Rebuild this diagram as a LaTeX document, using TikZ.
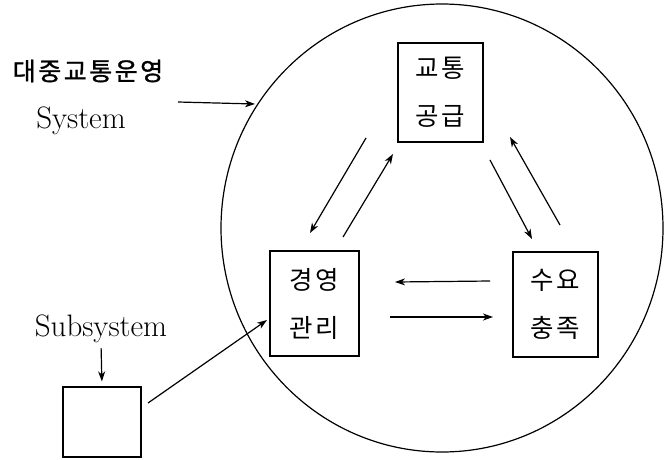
\documentclass[tikz,border=0pt]{standalone}
\usepackage{fontspec}
\newfontfamily\krfont[LetterSpace=10]{Noto Sans CJK KR}
\newfontfamily\krheavy[LetterSpace=10,FakeBold=1.2]{Noto Sans CJK KR}
\usetikzlibrary{arrows.meta}

\tikzset{
	blk/.style={draw, line width=1.2pt, inner sep=0pt, align=center,
		font=\krfont\fontsize{25.5}{48}\selectfont},
	lbl/.style={inner sep=0pt},
	arr/.style={-{Stealth[length=10pt,width=7pt,inset=3pt]}, line width=1.2pt}
}

\begin{document}
\begin{tikzpicture}[x=1pt,y=-1pt]
		\useasboundingbox (0,0) rectangle (664,459);
		%% The System Circle
		\draw[line width=1.2pt] (442,228) ellipse (221 and 224);
		%% Labels on the left
		\node[lbl, font=\krheavy\fontsize{25}{28}\selectfont] (sysname) at (88,71) {대중교통운영};
		\node[lbl, font=\fontsize{31}{34}\selectfont] (syslbl) at (81,121) {System};
		\node[lbl, font=\fontsize{31}{34}\selectfont] (sublbl) at (101,329) {Subsystem};
		%% The Boxes
		\node[blk, minimum width=78pt, minimum height=70pt] (subbox) at (102,422) {};
		\node[blk, minimum width=85pt, minimum height=99pt] (supply) at (440.5,92.5) {교통\\공급};
		\node[blk, minimum width=89pt, minimum height=105pt] (manage) at (314.5,303.5) {경영\\관리};
		\node[blk, minimum width=85pt, minimum height=105pt] (demand) at (555.5,304.5) {수요\\충족};
		%% Invisibly Defining the Arrow Ends
		\path 
			(178,102) coordinate (sys_st)
			(255,104) coordinate (sys_en)
			(148,403) coordinate (sub_st)
			(267,320) coordinate (sub_en)
			(366,138) coordinate (sm_st)  % supply to manage
			(310,233) coordinate (sm_en)
			(343,237) coordinate (ms_st)  % manage to supply
			(393,154) coordinate (ms_en)
			(490,160) coordinate (sd_st)  % supply to demand
			(532,239) coordinate (sd_en)
			(560,225) coordinate (ds_st)  % demand to supply
			(510,137) coordinate (ds_en)
			(490,281) coordinate (dm_st)  % demand to manage
			(395,282) coordinate (dm_en)
			(390,317) coordinate (md_st)  % manage to demand
			(493,317) coordinate (md_en);
		%% Drawing the arrows
		\draw[arr] (sys_st) -- (sys_en);
		\draw[arr, shorten <=5pt, shorten >=5pt] (sublbl.south) -- (subbox.north);
		\draw[arr] (sub_st) -- (sub_en);
		\draw[arr] (sm_st) -- (sm_en);
		\draw[arr] (ms_st) -- (ms_en);
		\draw[arr] (sd_st) -- (sd_en);
		\draw[arr] (ds_st) -- (ds_en);
		\draw[arr] (dm_st) -- (dm_en);
		\draw[arr] (md_st) -- (md_en);
	\end{tikzpicture}
\end{document}
